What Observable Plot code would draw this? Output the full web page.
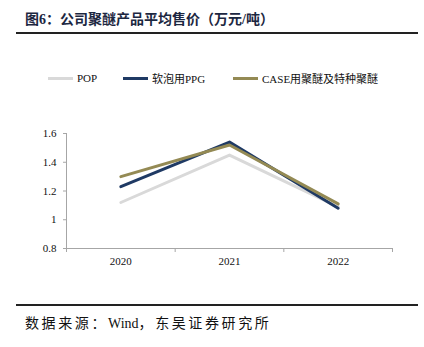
<!DOCTYPE html>
<html><head><meta charset="utf-8">
<script src="https://cdn.jsdelivr.net/npm/d3@7"></script>
<script src="https://cdn.jsdelivr.net/npm/@observablehq/plot@0.6"></script>
<style>
body{margin:0;background:#fff;}
#wrap{position:relative;width:424px;height:347px;font-family:"Liberation Serif","Noto Sans CJK SC",serif;}
#title{position:absolute;left:25px;top:8px;font-size:14px;font-weight:bold;color:#1c2741;white-space:nowrap;}
.rule{position:absolute;left:16px;width:402px;height:2px;background:#222;}
#legend{position:absolute;top:70px;left:0;width:424px;font-size:11px;color:#111;}
.li{position:absolute;top:0;display:flex;align-items:center;white-space:nowrap;height:16px;}
.sw{display:inline-block;width:25px;height:3px;margin-right:4px;}
#src{position:absolute;left:25px;top:312px;font-size:14px;color:#111;white-space:nowrap;}
#src .cj{letter-spacing:2.6px;}
#chart{position:absolute;left:0;top:110px;}
</style></head>
<body>
<div id="wrap">
<div id="title">图6：公司聚醚产品平均售价（万元/吨）</div>
<div class="rule" style="top:32px"></div>
<div id="legend"></div>
<div id="chart"></div>
<div class="rule" style="top:304px"></div>
<div id="src"><span class="cj">数据来源：</span>Wind<span class="cj">，东吴证券研究所</span></div>
</div>
<script>
const years = [2020, 2021, 2022];
const seriesNames = ["POP", "软泡用PPG", "CASE用聚醚及特种聚醚"];
const popValues = [1.12, 1.45, 1.09];
const ppgValues = [1.23, 1.54, 1.08];
const caseValues = [1.30, 1.52, 1.11];
const colors = ["#d9d9d9", "#1f3a64", "#948a54"];
const yTicks = [0.8, 1, 1.2, 1.4, 1.6];

const valuesBySeries = [popValues, ppgValues, caseValues];
const data = [];
seriesNames.forEach((s, i) => years.forEach((y, j) => data.push({series: s, year: y, value: valuesBySeries[i][j]})));

const legend = document.getElementById("legend");
const legendX = [48, 123, 233];
seriesNames.forEach((s, i) => {
  const d = document.createElement("div");
  d.className = "li";
  d.style.left = legendX[i] + "px";
  d.innerHTML = `<span class="sw" style="background:${colors[i]}"></span><span>${s}</span>`;
  legend.appendChild(d);
});

const boundaries = [2019.5, 2020.5, 2021.5, 2022.5];
const chart = Plot.plot({
  width: 424,
  height: 180,
  marginLeft: 66,
  marginRight: 32,
  marginTop: 23,
  marginBottom: 42,
  style: {fontFamily: "Liberation Serif, serif", fontSize: "11px", color: "#111", background: "transparent"},
  x: {domain: [2019.5, 2022.5], axis: null},
  y: {domain: [0.8, 1.6], axis: null},
  color: {domain: seriesNames, range: colors},
  marks: [
    Plot.axisY({ticks: yTicks, tickSize: 3, tickPadding: 7, tickFormat: d => String(d), stroke: "#a6a6a6", fill: "#111", label: null}),
    Plot.axisX({ticks: boundaries, tickSize: 4, tickFormat: () => "", stroke: "#a6a6a6", label: null}),
    Plot.axisX({ticks: years, tickSize: 0, tickPadding: 9, tickFormat: d => String(d), fill: "#111", label: null}),
    Plot.ruleY([0.8], {stroke: "#a6a6a6"}),
    Plot.ruleX([2019.5], {stroke: "#a6a6a6"}),
    Plot.line(data, {x: "year", y: "value", z: "series", stroke: "series", strokeWidth: 3})
  ]
});
document.getElementById("chart").appendChild(chart);
</script>
</body></html>
